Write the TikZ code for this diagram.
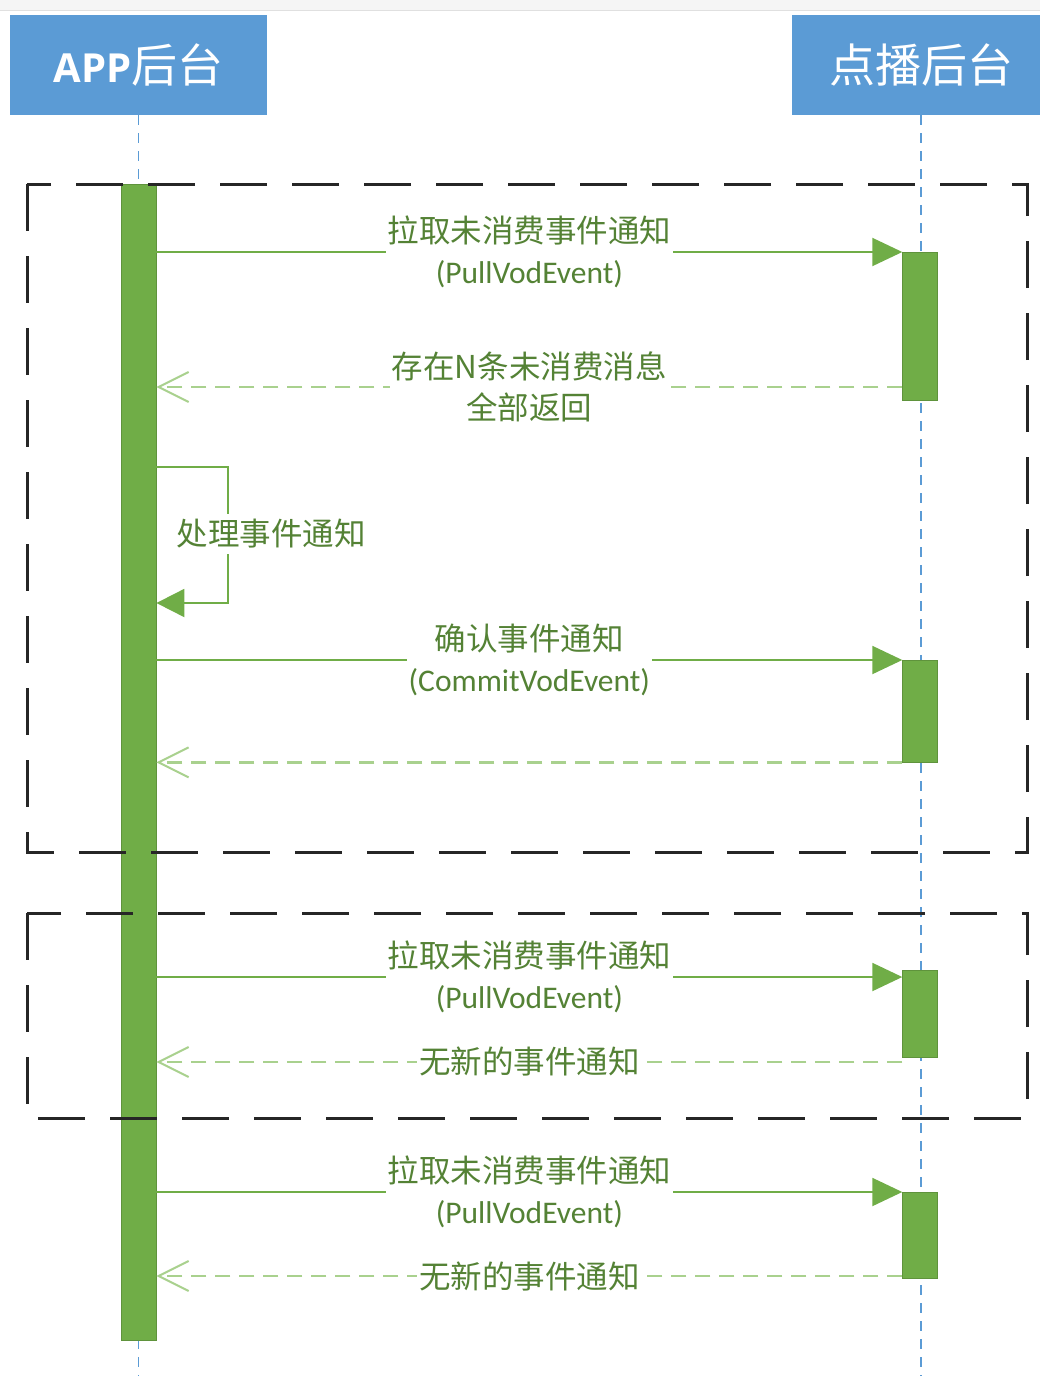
\documentclass[tikz,border=0pt]{standalone}
\usepackage{fontspec}
\setmainfont{Carlito}
\newfontfamily\cjk{Noto Sans CJK SC}
\newfontfamily\hdlat{Open Sans}
\usetikzlibrary{arrows.meta}
\definecolor{hdblue}{HTML}{5B9BD5}
\definecolor{actgreen}{HTML}{70AD47}
\definecolor{txtgreen}{HTML}{548235}
\definecolor{retgreen}{HTML}{A9D18E}

\begin{document}
\begin{tikzpicture}[x = 1pt, y = -1pt,
	head/.style = {fill = hdblue, text = white, inner sep = 0pt, font = \cjk\fontsize{46}{50}\selectfont},
	lifeline/.style = {hdblue, line width = 1.5pt, dash pattern = on 10pt off 8pt},
	frame/.style = {black!85, line width = 3pt, dash pattern = on 47pt off 25pt},
	actbar/.style = {fill = actgreen, draw = actgreen!85!black, line width = .4pt, inner sep = 0pt, minimum width = 35pt, anchor = north},
	msg/.style = {actgreen, line width = 2pt, -{Triangle[length = 30pt, width = 28pt]}},
	ret/.style = {retgreen, line width = 2.5pt, dash pattern = on 15pt off 9pt, -{Straight Barb[length = 30pt, width = 30pt, line width = 2pt]}},
	lbl/.style = {fill = white, text = txtgreen, inner xsep = 2pt, inner ysep = 0pt, align = center, font = \fontsize{31.5}{41}\selectfont},
	cjklbl/.style = {lbl, font = \cjk\fontsize{31.5}{41}\selectfont}]
\useasboundingbox (0,0) rectangle (1040,1376);
% Top band
\fill[black!4] (0,0) rectangle (1040,10);
\draw[black!12, line width = 1pt] (0,10) -- (1040,10);
% Heads
\node[head, anchor = north west, minimum width = 257pt, minimum height = 100pt] (app) at (10,15) {{\hdlat\bfseries\fontsize{40}{50}\selectfont APP}后台};
\node[head, anchor = north west, minimum width = 258pt, minimum height = 100pt] (vod) at (792,15) {点播后台};
% Lifelines
\coordinate (append) at (app.south |- 0,1376);
\coordinate (vodend) at (vod.south |- 0,1376);
\draw[lifeline] (app.south) -- (append);
\draw[lifeline] (vod.south) -- (vodend);
% Activations
\node[actbar, minimum height = 1156pt] (appact) at (app.south |- 0,184) {};
\node[actbar, minimum height = 148pt] (vodact1) at (920,252) {};
\node[actbar, minimum height = 102pt] (vodact2) at (920,660) {};
\node[actbar, minimum height = 87pt] (vodact3) at (920,970) {};
\node[actbar, minimum height = 86pt] (vodact4) at (920,1192) {};
% Frames
\draw[frame] (27,184) rectangle (1027,852);
\draw[frame] (27,913) rectangle (1027,1118);
% Pull 1
\draw[msg] (appact.east |- vodact1.north) -- node[lbl] {{\cjk 拉取未消费事件通知}\\(PullVodEvent)} (vodact1.north west);
\draw[ret] (vodact1.west |- 0,387) -- node[cjklbl] {存在N条未消费消息\\全部返回} (appact.east |- 0,387);
% Self call
\coordinate (loopa) at (228,467);
\coordinate (loopb) at (228,603);
\draw[msg, -{Triangle[length = 28pt, width = 28pt]}] (appact.east |- loopa) -- (loopa) -- (loopb) -- (appact.east |- loopb);
\node[cjklbl, inner ysep = 5pt] (loopl) at (271,534) {处理事件通知};
% Commit
\draw[msg] (appact.east |- vodact2.north) -- node[lbl] {{\cjk 确认事件通知}\\(CommitVodEvent)} (vodact2.north west);
\draw[ret] (vodact2.south west) -- (appact.east |- vodact2.south);
% Pull 2
\draw[msg] (appact.east |- 0,977) -- node[lbl] {{\cjk 拉取未消费事件通知}\\(PullVodEvent)} (vodact3.west |- 0,977);
\draw[ret] (vodact3.west |- 0,1062) -- node[cjklbl] {无新的事件通知} (appact.east |- 0,1062);
% Pull 3
\draw[msg] (appact.east |- vodact4.north) -- node[lbl] {{\cjk 拉取未消费事件通知}\\(PullVodEvent)} (vodact4.north west);
\draw[ret] (vodact4.west |- 0,1276) -- node[cjklbl] {无新的事件通知} (appact.east |- 0,1276);
\end{tikzpicture}
\end{document}
